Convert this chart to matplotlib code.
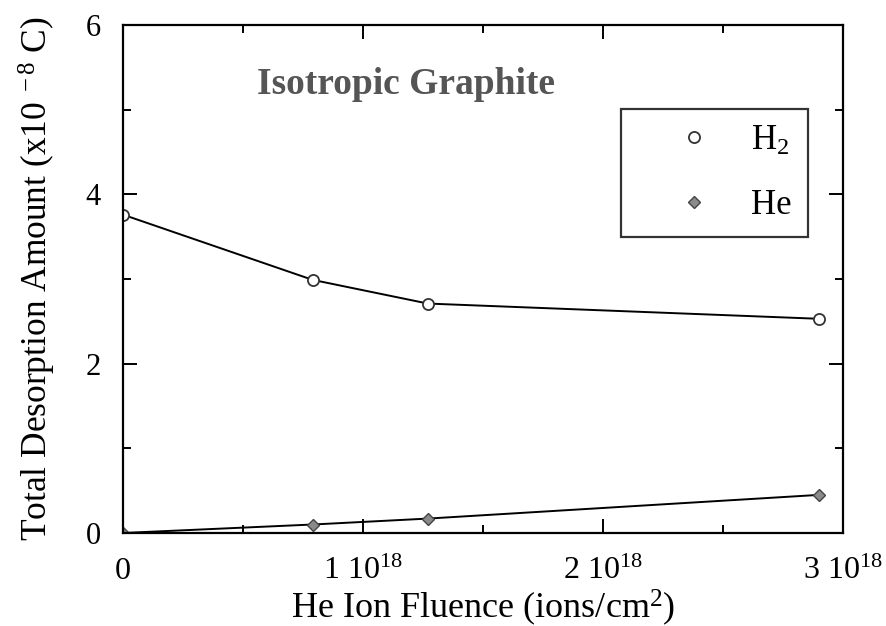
import matplotlib
matplotlib.use("Agg")
import matplotlib.pyplot as plt
from matplotlib.ticker import MultipleLocator, FixedLocator

plt.rcParams["font.family"] = ["Liberation Serif", "DejaVu Serif"]
plt.rcParams["mathtext.fontset"] = "custom"
plt.rcParams["mathtext.rm"] = "Liberation Serif"
plt.rcParams["mathtext.it"] = "Liberation Serif:italic"
plt.rcParams["mathtext.bf"] = "Liberation Serif:bold"

# Data (fluence in 1e18 ions/cm^2, desorption amount in 1e-8 C)
fluence = [0.0, 0.79, 1.27, 2.9]
h2_amount = [3.76, 2.99, 2.71, 2.53]
he_amount = [0.0, 0.10, 0.17, 0.45]

x_ticks = [0, 1, 2, 3]
x_ticklabels = ["0", "1 10$^{18}$", "2 10$^{18}$", "3 10$^{18}$"]
y_ticks = [0, 2, 4, 6]

fig = plt.figure(figsize=(8.87, 6.26), dpi=100)
ax = fig.add_axes([0.1387, 0.1486, 0.8117, 0.8114])

ax.plot(fluence, h2_amount, color="black", lw=1.4, marker="o", ms=8,
        mfc="white", mec="#333333", mew=1.3, label="H$_2$")
ax.plot(fluence, he_amount, color="black", lw=1.4, marker="D", ms=6.5,
        mfc="#8a8a8a", mec="#444444", mew=1.0, label="He")

ax.set_xlim(0, 3)
ax.set_ylim(0, 6)
ax.xaxis.set_major_locator(FixedLocator(x_ticks))
ax.set_xticklabels(x_ticklabels)
ax.xaxis.set_minor_locator(MultipleLocator(0.5))
ax.yaxis.set_major_locator(FixedLocator(y_ticks))
ax.yaxis.set_minor_locator(MultipleLocator(1))

ax.tick_params(which="both", direction="in", top=True, right=True, width=1.4)
ax.tick_params(which="major", length=10)
ax.tick_params(which="minor", length=6)
ax.tick_params(axis="x", which="major", pad=17, labelsize=23)
ax.tick_params(axis="y", which="major", pad=16, labelsize=22)
for s in ax.spines.values():
    s.set_linewidth(1.6)

ax.set_xlabel("He Ion Fluence (ions/cm$^2$)", fontsize=26, labelpad=1)
ax.set_ylabel("Total Desorption Amount (x10$^{\\ -8}$ C)", fontsize=25.5, labelpad=20)

ax.text(1.18, 5.3, "Isotropic Graphite", fontsize=27, fontweight="bold",
        color="#555555", ha="center", va="center")

leg = ax.legend(loc="upper right", bbox_to_anchor=(0.951, 0.835),
                fontsize=25, frameon=True, fancybox=False, edgecolor="black",
                handlelength=3.3, handletextpad=0.0, borderpad=0.45,
                labelspacing=0.9, borderaxespad=0.0)
leg.get_frame().set_linewidth(1.6)
for h in leg.legend_handles:
    h.set_linestyle("none")

fig.savefig("out.png", dpi=100)
